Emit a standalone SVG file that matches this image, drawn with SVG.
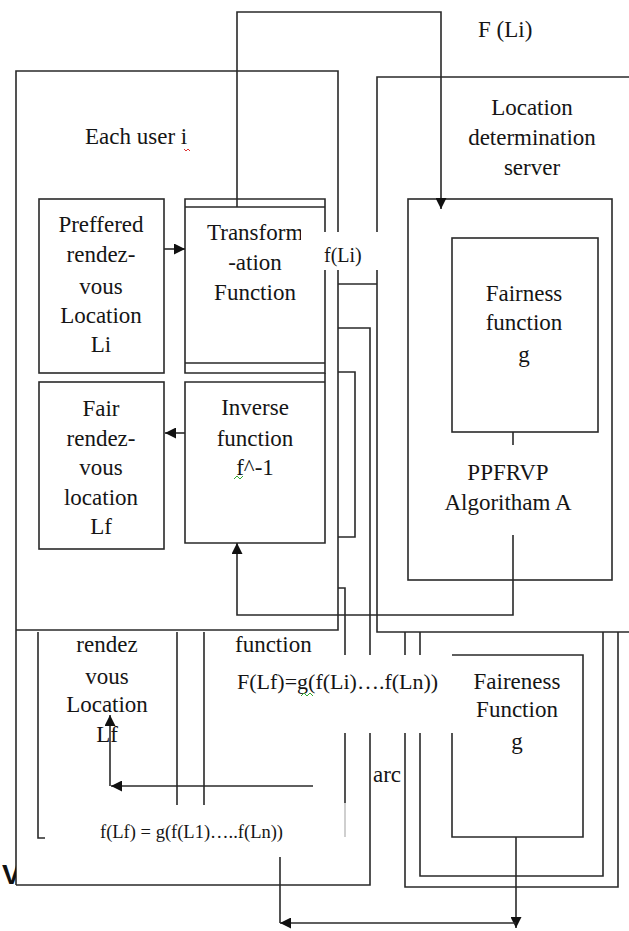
<svg xmlns="http://www.w3.org/2000/svg" width="629" height="931" viewBox="0 0 629 931" font-family="'Liberation Serif', 'Times New Roman', Times, serif">
<style>
.ln{fill:none;stroke:#2a2a2a;stroke-width:1.6}
text{font-family:'Liberation Serif','Times New Roman',Times,serif}
.t{font-size:23px;fill:#151515}
.c{text-anchor:middle}
.m{font-size:22px}
.s{font-size:20px}
.sm{font-size:18.5px}
.sq{fill:none;stroke-width:1}
</style>
<defs>
<marker id="ah" viewBox="0 0 10 10" refX="10" refY="5" markerWidth="12" markerHeight="11" markerUnits="userSpaceOnUse" orient="auto">
<path d="M0,0 L10,5 L0,10 z" fill="#111"/>
</marker>
<clipPath id="clipT"><rect x="180" y="210" width="121" height="50"/></clipPath>
<clipPath id="clipV"><rect x="0" y="850" width="16" height="40"/></clipPath>
</defs>
<rect width="629" height="931" fill="#fff"/>

<g id="user-box">
<path class="ln" d="M338,232 V71 H16 V885 M16,630 H338 V270"/>
<text class="t" x="85" y="144">Each user i</text>
<path class="sq" stroke="#d33" d="M184,149 l2,2 l2,-2 l2,2"/>
</g>

<g id="server-box">
<path class="ln" d="M629,77 H377 V232 M377,270 V632 H629"/>
<text class="t c" x="532" y="115">Location</text>
<text class="t c" x="532" y="145">determination</text>
<text class="t c" x="532" y="175">server</text>
</g>

<g id="preferred">
<rect class="ln" x="39" y="199" width="125" height="174"/>
<text class="t c" x="101" y="232">Preffered</text>
<text class="t c" x="101" y="262">rendez-</text>
<text class="t c" x="101" y="294">vous</text>
<text class="t c" x="101" y="323">Location</text>
<text class="t c" x="101" y="352">Li</text>
</g>

<g id="transformation">
<path class="ln" d="M325,232 V199 H185 V373 H325 V270 M185,207 H325 M185,363 H325"/>
<text class="t" x="207" y="240" clip-path="url(#clipT)">Transform</text>
<text class="t c" x="255" y="270">-ation</text>
<text class="t c" x="255" y="300">Function</text>
</g>

<g id="fair">
<rect class="ln" x="39" y="382" width="125" height="167"/>
<text class="t c" x="101" y="416">Fair</text>
<text class="t c" x="101" y="446">rendez-</text>
<text class="t c" x="101" y="475">vous</text>
<text class="t c" x="101" y="505">location</text>
<text class="t c" x="101" y="534">Lf</text>
</g>

<g id="inverse">
<path class="ln" d="M325,373 V543 H185 V382 H325"/>
<text class="t c" x="255" y="415">Inverse</text>
<text class="t c" x="255" y="446">function</text>
<text class="t c" x="255" y="475">f^-1</text>
<path class="sq" stroke="#3a3" d="M234,479 l3,-3 l3,3 l3,-3"/>
</g>

<g id="fli-label">
<text class="t s" x="324" y="262">f(Li)</text>
</g>

<g id="algorithm">
<rect class="ln" x="408" y="199" width="204" height="381"/>
<text class="t c" x="508" y="480">PPFRVP</text>
<text class="t c" x="508" y="510">Algoritham A</text>
</g>

<g id="fairness-upper">
<rect class="ln" x="452" y="238" width="146" height="194"/>
<text class="t c" x="524" y="301">Fairness</text>
<text class="t c" x="524" y="330">function</text>
<text class="t c" x="524" y="362">g</text>
</g>

<g id="lower-box">
<path class="ln" d="M338,328 H370 V655 M370,733 V885 H16"/>
<path class="ln" d="M38,632 V838 H45"/>
<path class="ln" d="M177,632 V805 M204,632 V805"/>
<text class="t c" x="107" y="652">rendez</text>
<text class="t c" x="107" y="684">vous</text>
<text class="t c" x="107" y="712">Location</text>
<text class="t c" x="107" y="742">Lf</text>
<text class="t" x="235" y="652">function</text>
<text class="t m" x="237" y="689">F(Lf)=g(f(Li)….f(Ln))</text>
<path class="sq" stroke="#3a3" d="M301,696 l3,-3 l3,3 l3,-3 l3,3"/>
<text class="t" x="373" y="782">arc</text>
<text class="t sm" x="100" y="838">f(Lf) = g(f(L1)…..f(Ln))</text>
<text x="2" y="884" clip-path="url(#clipV)" style="font-family:'Liberation Sans',Arial,sans-serif;font-size:28px;font-weight:bold;fill:#111">V</text>
</g>

<g id="fairness-lower">
<path class="ln" d="M452,733 V837 H583 V655 H452"/>
<text class="t c" x="517" y="689">Faireness</text>
<text class="t c" x="517" y="717">Function</text>
<text class="t c" x="517" y="749">g</text>
</g>

<g id="lines">
<path class="ln" d="M338,284 H377"/>
<path class="ln" d="M338,372 H355 V537 H338"/>
<path class="ln" d="M338,588 H345 V655 M345,733 V803"/>
<path d="M345,803 V837" stroke="#bbb" stroke-width="1.4" fill="none"/>
<path class="ln" d="M405,632 V655 M405,733 V887 H618 V632"/>
<path class="ln" d="M420,632 V655 M420,733 V876 H603 V632"/>
</g>

<g id="connectors">
<path class="ln" d="M237,207 V12 H441 V209" marker-end="url(#ah)"/>
<path class="ln" d="M164,249 H185" marker-end="url(#ah)"/>
<path class="ln" d="M185,433 H165" marker-end="url(#ah)"/>
<path class="ln" d="M513,432 V445"/>
<path class="ln" d="M513,535 V615 H237 V543" marker-end="url(#ah)"/>
<path class="ln" d="M313,786 H111" marker-end="url(#ah)"/>
<path class="ln" d="M110,786 V715" marker-end="url(#ah)"/>
<path class="ln" d="M516,837 V928" marker-end="url(#ah)"/>
<path class="ln" d="M516,923 H280" marker-end="url(#ah)"/>
<path class="ln" d="M280,857 V923"/>
</g>

<text class="t" x="478" y="37">F (Li)</text>
</svg>
